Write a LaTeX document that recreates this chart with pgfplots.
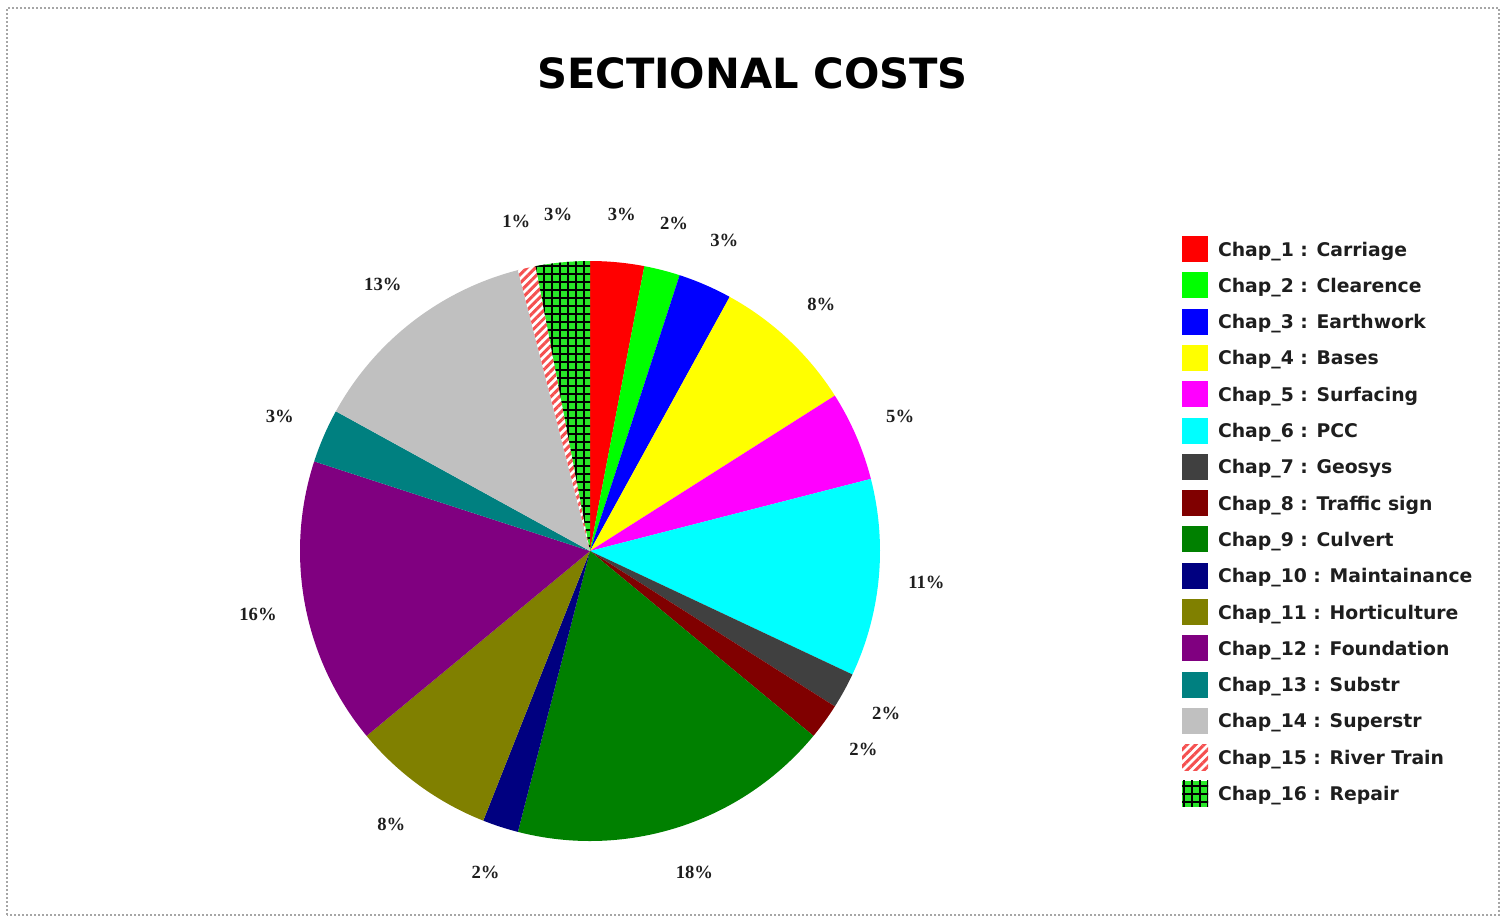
\documentclass[border=0pt]{standalone}
\usepackage{pgfplots}
\pgfplotsset{compat=1.18}
\usepackage{pgfplotstable}
\usepackage{fontspec}
\setmainfont{DejaVu Sans}
\newfontfamily\serifb{Liberation Serif}
\usetikzlibrary{patterns.meta}

\definecolor{c1}{RGB}{255,0,0}
\definecolor{c2}{RGB}{0,255,0}
\definecolor{c3}{RGB}{0,0,255}
\definecolor{c4}{RGB}{255,255,0}
\definecolor{c5}{RGB}{255,0,255}
\definecolor{c6}{RGB}{0,255,255}
\definecolor{c7}{RGB}{64,64,64}
\definecolor{c8}{RGB}{128,0,0}
\definecolor{c9}{RGB}{0,128,0}
\definecolor{c10}{RGB}{0,0,128}
\definecolor{c11}{RGB}{128,128,0}
\definecolor{c12}{RGB}{128,0,128}
\definecolor{c13}{RGB}{0,128,128}
\definecolor{c14}{RGB}{192,192,192}
\definecolor{c15}{RGB}{245,80,80}
\definecolor{c16}{RGB}{40,230,40}
\definecolor{labcol}{RGB}{30,30,30}

\tikzset{
  s1/.style={fill=c1}, s2/.style={fill=c2}, s3/.style={fill=c3}, s4/.style={fill=c4},
  s5/.style={fill=c5}, s6/.style={fill=c6}, s7/.style={fill=c7}, s8/.style={fill=c8},
  s9/.style={fill=c9}, s10/.style={fill=c10}, s11/.style={fill=c11}, s12/.style={fill=c12},
  s13/.style={fill=c13}, s14/.style={fill=c14},
  s15/.style={fill=white, draw=none, postaction={draw=none, pattern={Lines[angle=45,distance=0.06cm,line width=0.03cm]}, pattern color=c15}},
  s16/.style={fill=c16, draw=none,
     postaction={draw=none, pattern={Lines[angle=0,distance=0.08cm,line width=0.014cm]}, pattern color=black},
     postaction={draw=none, pattern={Lines[angle=90,distance=0.08cm,line width=0.014cm]}, pattern color=black}},
  lab/.style={font=\serifb\bfseries\fontsize{5.3pt}{6pt}\selectfont, text=labcol, inner sep=0pt},
}

\pgfplotsset{sq/.style={legend image code/.code={\fill[##1, draw=none] (0cm,-0.13cm) rectangle (0.26cm,0.13cm);}}}

% slice values (percent), clockwise from 12 o'clock
\pgfplotstableread{
val
3
2
3
8
5
11
2
2
18
2
8
16
3
13
1
3
}\piedata

\begin{document}
\begin{tikzpicture}
\begin{axis}[
  x=1cm, y=1cm,
  xmin=0, xmax=15.07, ymin=0, ymax=9.22,
  enlargelimits=false,
  hide axis, clip=false,
  anchor=south west, at={(0,0)},
  legend cell align=left,
  legend style={draw=none, fill=none, at={(axis cs:11.82,6.86)}, anchor=north west,
    font=\bfseries\fontsize{5.35pt}{6pt}\selectfont, text=labcol,
    inner sep=0pt, outer sep=0pt, row sep=0.103cm, column sep=0.10cm,
    nodes={inner sep=0pt, text height=0.14cm, text depth=0.0cm}},
]
\path (axis cs:0,0) rectangle (axis cs:15.07,9.22);
\draw[gray!70, line width=0.018cm, dash pattern=on 0.02cm off 0.02cm]
  (axis cs:0.07,0.07) rectangle (axis cs:14.99,9.14);

\node[font=\bfseries\fontsize{11.85pt}{13pt}\selectfont, text=black] at (axis cs:7.525,8.49) {SECTIONAL COSTS};

\pgfmathsetmacro\cum{0}
\pgfplotsforeachungrouped \i in {0,...,15}{%
  \pgfplotstablegetelem{\i}{val}\of\piedata
  \let\v\pgfplotsretval
  \pgfmathsetmacro\a{90-3.6*\cum}%
  \pgfmathsetmacro\b{90-3.6*(\cum+\v)}%
  \pgfmathsetmacro\m{(\a+\b)/2}%
  \pgfmathsetmacro\lx{5.90+3.38*cos(\m)}%
  \pgfmathsetmacro\ly{3.71+3.38*sin(\m)}%
  \pgfmathtruncatemacro\k{\i+1}%
  \edef\temp{%
    \noexpand\fill[s\k] (axis cs:5.90,3.71) -- ++(\a:2.9cm) arc[start angle=\a, end angle=\b, radius=2.9cm] -- cycle;
    \noexpand\node[lab] at (axis cs:\lx,\ly) {\v\noexpand\%};
  }%
  \temp
  \pgfmathsetmacro\cum{\cum+\v}%
}

\addlegendimage{sq,s1}\addlegendentry{Chap\_1 : Carriage}
\addlegendimage{sq,s2}\addlegendentry{Chap\_2 : Clearence}
\addlegendimage{sq,s3}\addlegendentry{Chap\_3 : Earthwork}
\addlegendimage{sq,s4}\addlegendentry{Chap\_4 : Bases}
\addlegendimage{sq,s5}\addlegendentry{Chap\_5 : Surfacing}
\addlegendimage{sq,s6}\addlegendentry{Chap\_6 : PCC}
\addlegendimage{sq,s7}\addlegendentry{Chap\_7 : Geosys}
\addlegendimage{sq,s8}\addlegendentry{Chap\_8 : Traffic sign}
\addlegendimage{sq,s9}\addlegendentry{Chap\_9 : Culvert}
\addlegendimage{sq,s10}\addlegendentry{Chap\_10 : Maintainance}
\addlegendimage{sq,s11}\addlegendentry{Chap\_11 : Horticulture}
\addlegendimage{sq,s12}\addlegendentry{Chap\_12 : Foundation}
\addlegendimage{sq,s13}\addlegendentry{Chap\_13 : Substr}
\addlegendimage{sq,s14}\addlegendentry{Chap\_14 : Superstr}
\addlegendimage{sq,s15}\addlegendentry{Chap\_15 : River Train}
\addlegendimage{sq,s16}\addlegendentry{Chap\_16 : Repair}
\end{axis}
\end{tikzpicture}
\end{document}
